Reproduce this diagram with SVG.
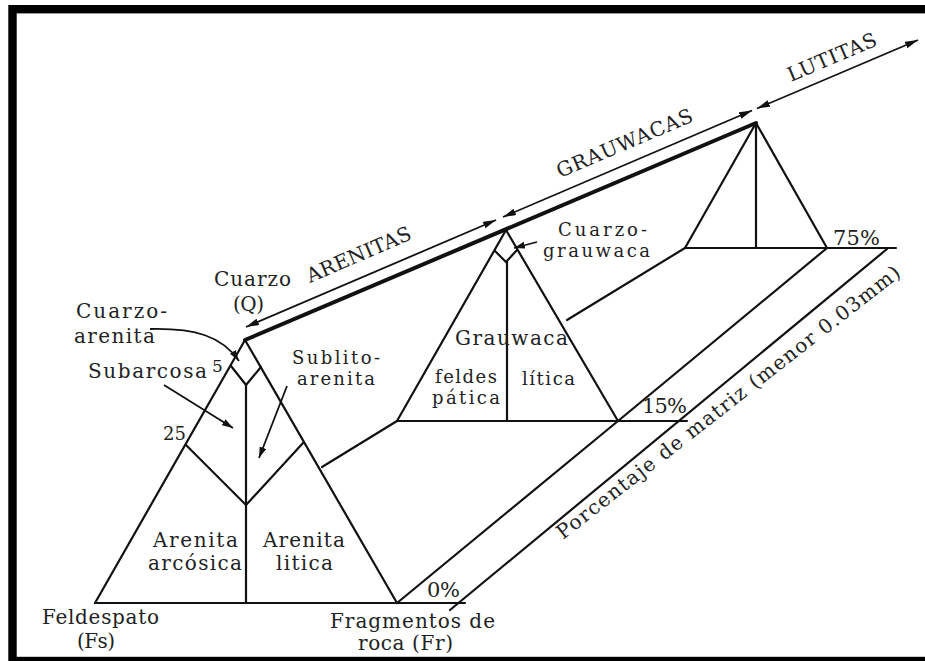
<svg xmlns="http://www.w3.org/2000/svg" width="925" height="661" viewBox="0 0 925 661">
<style>
.ln{fill:none;stroke:#111;stroke-width:2.2;stroke-linecap:round;stroke-linejoin:round}
.thick{fill:none;stroke:#111;stroke-width:4;stroke-linecap:round}
.arr{fill:none;stroke:#111;stroke-width:1.8}
.t{font-family:"DejaVu Serif","Liberation Serif",serif;font-size:20px;fill:#222}
.m{font-size:18px}
.p{font-size:21px}
.s{font-size:17px}
</style>
<defs>
<marker id="ah" markerUnits="userSpaceOnUse" markerWidth="14" markerHeight="8" refX="13" refY="3.5" orient="auto-start-reverse">
<path d="M0,0 L13,3.5 L0,7 z" fill="#111"/>
</marker>
<marker id="ah2" markerUnits="userSpaceOnUse" markerWidth="12" markerHeight="8" refX="11" refY="3.5" orient="auto">
<path d="M0,0 L11,3.5 L0,7 z" fill="#111"/>
</marker>
</defs>
<rect x="0" y="0" width="925" height="661" fill="#fff"/>
<rect id="frame" x="12.5" y="9.2" width="1000" height="651.8" fill="none" stroke="#000" stroke-width="8.4"/>

<g id="tri0">
<path class="ln" d="M95,603 L245,340 L397,603"/>
<path class="ln" d="M95,603 L465,603"/>
<path class="ln" d="M246,385 L246,603"/>
<path class="ln" d="M231,366 L246,385 L261,367"/>
<path class="ln" d="M186,445 L246,505 L303,443"/>
</g>
<g id="tri15">
<path class="ln" d="M397,421 L506,230 L618,421"/>
<path class="ln" d="M397,421 L687,421"/>
<path class="ln" d="M507,262 L507,421"/>
<path class="ln" d="M495,251 L506,262 L517,250"/>
</g>
<g id="tri75">
<path class="ln" d="M685,248 L756,123 L827,248"/>
<path class="ln" d="M685,248 L896,248"/>
<path class="ln" d="M756,123 L756,248"/>
</g>
<g id="connectors">
<path class="ln" d="M322,467 L397,421"/>
<path class="ln" d="M567,320 L685,248"/>
<path class="ln" d="M397,603 L618,421 L827,248"/>
<path class="ln" d="M450,610 L887,249"/>
<path class="thick" d="M245,340 L756,123"/>
<path class="arr" d="M246,327 L496,220" marker-start="url(#ah)" marker-end="url(#ah)"/>
<path class="arr" d="M503,217 L752,110.5" marker-start="url(#ah)" marker-end="url(#ah)"/>
<path class="arr" d="M757,108.5 L918,40" marker-start="url(#ah)" marker-end="url(#ah)"/>
<path class="arr" d="M150,329 C195,328 222,336 239,361" marker-end="url(#ah2)"/>
<path class="arr" d="M164,385 L233,428" marker-end="url(#ah2)"/>
<path class="arr" d="M287,386 L259,458" marker-end="url(#ah2)"/>
<path class="arr" d="M537,242 L514,248" marker-end="url(#ah2)"/>
</g>
<g id="labels">
<text class="t" x="214" y="286" textLength="77" lengthAdjust="spacing">Cuarzo</text>
<text class="t" x="233" y="311" textLength="31" lengthAdjust="spacing">(Q)</text>
<text class="t" x="76" y="318" textLength="91" lengthAdjust="spacing">Cuarzo-</text>
<text class="t" x="74" y="343" textLength="81" lengthAdjust="spacing">arenita</text>
<text class="t" x="88" y="378" textLength="119" lengthAdjust="spacing">Subarcosa</text>
<text class="t s" x="212" y="372">5</text>
<text class="t m" x="163" y="440">25</text>
<text class="t m" x="292" y="364" textLength="88" lengthAdjust="spacing">Sublito-</text>
<text class="t m" x="297" y="385" textLength="78" lengthAdjust="spacing">arenita</text>
<text class="t" transform="translate(310,283) rotate(-23.3)" textLength="112" lengthAdjust="spacing">ARENITAS</text>
<text class="t" transform="translate(560,178) rotate(-23)" textLength="146" lengthAdjust="spacing">GRAUWACAS</text>
<text class="t" transform="translate(791,82) rotate(-23)" textLength="95" lengthAdjust="spacing">LUTITAS</text>
<text class="t m" x="558" y="236" textLength="89" lengthAdjust="spacing">Cuarzo-</text>
<text class="t m" x="543" y="257" textLength="107" lengthAdjust="spacing">grauwaca</text>
<text class="t" x="455" y="345" textLength="113" lengthAdjust="spacing">Grauwaca</text>
<text class="t m" x="435" y="383" textLength="62" lengthAdjust="spacing">feldes</text>
<text class="t m" x="432" y="404" textLength="68" lengthAdjust="spacing">pática</text>
<text class="t m" x="522" y="385" textLength="53" lengthAdjust="spacing">lítica</text>
<text class="t p" x="642" y="413" textLength="45" lengthAdjust="spacing">15%</text>
<text class="t p" x="427" y="597" textLength="33" lengthAdjust="spacing">0%</text>
<text class="t p" x="833" y="245" textLength="47" lengthAdjust="spacing">75%</text>
<text class="t" transform="translate(563,540) rotate(-38)" textLength="430" lengthAdjust="spacing">Porcentaje de matriz (menor 0.03mm)</text>
<text class="t" x="42" y="624" textLength="117" lengthAdjust="spacing">Feldespato</text>
<text class="t" x="77" y="648" textLength="38" lengthAdjust="spacing">(Fs)</text>
<text class="t" x="330" y="628" textLength="165" lengthAdjust="spacing">Fragmentos de</text>
<text class="t" x="358" y="650" textLength="95" lengthAdjust="spacing">roca (Fr)</text>
<text class="t" x="153" y="547" textLength="85" lengthAdjust="spacing">Arenita</text>
<text class="t" x="148" y="570" textLength="94" lengthAdjust="spacing">arcósica</text>
<text class="t" x="263" y="547" textLength="82" lengthAdjust="spacing">Arenita</text>
<text class="t" x="276" y="570" textLength="57" lengthAdjust="spacing">litica</text>
</g>
</svg>
